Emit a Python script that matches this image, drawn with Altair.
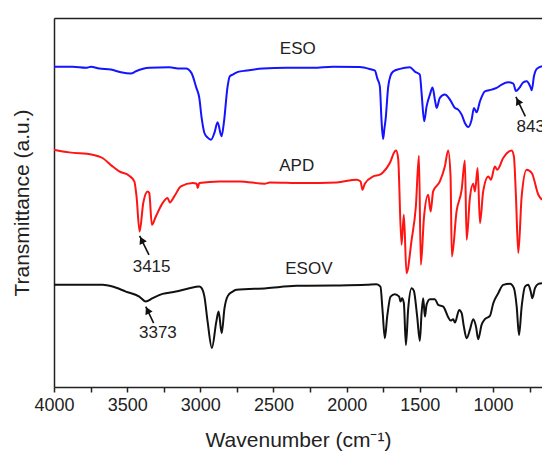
import altair as alt
import numpy as np
import pandas as pd

# FTIR spectra, vertically offset (arbitrary transmittance units)
ESO_WN = [4000, 3873, 3782, 3748, 3691, 3611, 3543, 3475, 3440, 3349, 3212, 3141, 3098, 3061,
          3027, 3007, 2991, 2972, 2950, 2927, 2904, 2882, 2855, 2838, 2815, 2799, 2779, 2743,
          2685, 2572, 2411, 2230, 2093, 1910, 1830, 1807, 1790, 1773, 1762, 1751, 1742, 1734,
          1716, 1700, 1682, 1636, 1568, 1534, 1500, 1488, 1470, 1454, 1431, 1413, 1397, 1385,
          1363, 1329, 1294, 1260, 1238, 1214, 1192, 1169, 1146, 1130, 1112, 1089, 1055, 1009,
          975, 941, 896, 861, 843, 820, 793, 770, 745, 735, 720, 701, 665]
ESO_T = [319.7, 319.7, 318.7, 319.7, 318, 317, 314.3, 313, 315.3, 318.7, 319.3, 318, 318, 313.7,
         298.7, 288.7, 268.7, 253.7, 249, 247, 253.7, 264.3, 250.3, 265.3, 298.7, 310.3, 312, 314.7,
         316, 318, 318.7, 318.7, 319.7, 319.5, 317, 316, 308, 300, 267, 247.7, 258, 267,
         300, 311, 315, 317.7, 319.3, 315, 312, 293.7, 265.3, 280, 292, 299, 287, 278.7,
         288.7, 292, 287, 278.7, 277, 272, 263.7, 259.7, 267, 278.7, 274.3, 285.3, 295.3, 297,
         298.7, 302, 304.3, 303, 295.5, 298.7, 304.3, 305.3, 300, 296.3, 310.3, 317.7, 320.3]

APD_WN = [4000, 3896, 3737, 3668, 3600, 3554, 3486, 3451, 3436, 3415, 3390, 3360, 3349, 3331,
          3304, 3258, 3224, 3208, 3178, 3133, 3053, 3025, 3018, 3007, 2870, 2731, 2560, 2526,
          2298, 2069, 1933, 1905, 1892, 1876, 1819, 1773, 1751, 1705, 1671, 1662, 1648, 1625,
          1609, 1591, 1556, 1527, 1506, 1493, 1472, 1443, 1426, 1409, 1363, 1329, 1306, 1290,
          1281, 1249, 1214, 1192, 1180, 1158, 1135, 1123, 1105, 1089, 1067, 1032, 1014, 987,
          971, 930, 872, 857, 843, 827, 804, 770, 735, 690, 665]
APD_T = [237, 234.3, 232, 228.7, 220.3, 215.3, 211, 205.3, 190.3, 155.3, 183.7, 195.3, 193.7, 162,
         170.3, 183.7, 188.7, 184.3, 190.3, 200.3, 203.7, 203, 198.7, 203.7, 205.3, 205.3, 203, 204.3,
         203.7, 204.3, 207, 205.3, 197, 203, 210.3, 212, 214.5, 223.7, 235.3, 236.3, 228, 142,
         172, 113.7, 147, 180.3, 231, 122, 168.7, 192, 175.3, 195.3, 205.3, 220.3, 236.3, 210.3,
         130.3, 175.3, 197, 226.3, 147, 188.7, 203, 195.3, 218.7, 163.7, 195.3, 210.3, 207, 220.3,
         217, 228.7, 236.3, 230.3, 190.3, 133.7, 190.3, 217, 213.7, 192, 187]

ESOV_WN = [4000, 3668, 3600, 3509, 3417, 3373, 3326, 3258, 3167, 3075, 3007, 2991, 2972, 2950,
           2921, 2891, 2875, 2854, 2835, 2812, 2779, 2754, 2548, 2343, 2093, 1864, 1796, 1769,
           1755, 1739, 1723, 1700, 1671, 1641, 1632, 1621, 1609, 1595, 1580, 1556, 1541, 1518,
           1500, 1488, 1477, 1465, 1454, 1431, 1397, 1374, 1340, 1306, 1290, 1272, 1260, 1231,
           1214, 1199, 1180, 1158, 1135, 1116, 1101, 1078, 1055, 1021, 998, 964, 930, 884,
           857, 838, 822, 804, 781, 759, 742, 731, 713, 690, 665]
ESOV_T = [102, 102, 100.3, 95.3, 90.3, 85.3, 88.7, 93, 95.3, 98.7, 100.3, 98.7, 90.3, 65,
          39, 65, 75.3, 53.7, 78.5, 91, 95.3, 97, 98.7, 101, 101.3, 102, 102.7, 100.3,
          77, 48.7, 70.3, 90.3, 92.7, 90.3, 85.3, 88.7, 83.7, 42, 77, 98.7, 96.3, 70.3,
          46, 73.7, 88.7, 70.3, 82, 87.7, 87.7, 82, 80.3, 69.7, 66.3, 67.7, 64.3, 77,
          73.7, 60.3, 48.7, 57, 67.7, 60.3, 47.7, 62, 67.7, 71, 83.7, 93.7, 102, 103,
          98.7, 80.3, 52, 80.3, 100.3, 102, 95.3, 88.7, 98.7, 103, 103.7]

SAMPLES = ["ESO", "APD", "ESOV"]
COLORS = ["#1414ff", "#ff1414", "#111111"]

# Sample names placed beside their curves
NAME_WN = [2334, 2341, 2258]
NAME_T = [338, 221, 117.7]

# Marked bands: arrow tip sits on the band, the number sits at the arrow tail
PEAK_WN = [3415, 3373, 843]
PEAK_TIP_T = [151, 80.3, 289.7]
ARROW_TAIL_WN = [3351, 3319, 779]
ARROW_TAIL_T = [132, 63.7, 270.3]
PEAK_TEXT_WN = [3333, 3290, 742]
PEAK_TEXT_T = [120.3, 53.7, 259.7]

FONT = "Liberation Sans"
INK = "#222222"

spectra = pd.concat(
    [
        pd.DataFrame({"wn": ESO_WN, "t": ESO_T, "sample": "ESO"}),
        pd.DataFrame({"wn": APD_WN, "t": APD_T, "sample": "APD"}),
        pd.DataFrame({"wn": ESOV_WN, "t": ESOV_T, "sample": "ESOV"}),
    ],
    ignore_index=True,
)

names = pd.DataFrame({"wn": NAME_WN, "t": NAME_T, "label": SAMPLES})
peak_text = pd.DataFrame({"wn": PEAK_TEXT_WN, "t": PEAK_TEXT_T,
                          "label": [str(v) for v in PEAK_WN]})

tip_wn = np.array(PEAK_WN, dtype=float)
tip_t = np.array(PEAK_TIP_T, dtype=float)
tail_wn = np.array(ARROW_TAIL_WN, dtype=float)
tail_t = np.array(ARROW_TAIL_T, dtype=float)
arrows = pd.DataFrame({
    "wn": tail_wn, "t": tail_t, "wn2": tip_wn, "t2": tip_t,
    # arrowhead centred a little behind the tip
    "hwn": tip_wn + 0.22 * (tail_wn - tip_wn),
    "ht": tip_t + 0.22 * (tail_t - tip_t),
})

x_scale = alt.Scale(domain=[4000, 665], nice=False, zero=False)
y_scale = alt.Scale(domain=[0, 368.5], nice=False, zero=False)

x_axis = alt.Axis(
    values=list(range(4000, 600, -250)),
    labelExpr="datum.value % 500 == 0 ? datum.value : ''",
    labelFlush=False, labelOverlap=False, grid=False,
    tickSize=5, tickWidth=1.5, tickColor=INK,
    domainWidth=1.5, domainColor=INK,
    labelFont=FONT, labelFontSize=18, labelColor=INK, labelPadding=4,
    titleFont=FONT, titleFontSize=21, titleFontWeight="normal", titleColor=INK,
    titlePadding=15,
)
y_axis = alt.Axis(
    labels=False, ticks=False, grid=False,
    domainWidth=1.5, domainColor=INK,
    titleFont=FONT, titleFontSize=21, titleFontWeight="normal", titleColor=INK,
    titlePadding=22,
)
top_axis = alt.Axis(
    orient="top", labels=False, ticks=False, grid=False, title=None,
    domainWidth=1.5, domainColor=INK,
)

lines = alt.Chart(spectra).mark_line(strokeWidth=2, interpolate="monotone").encode(
    x=alt.X("wn:Q", scale=x_scale, axis=x_axis, title="Wavenumber (cm⁻¹)"),
    y=alt.Y("t:Q", scale=y_scale, axis=y_axis, title="Transmittance (a.u.)"),
    color=alt.Color("sample:N", scale=alt.Scale(domain=SAMPLES, range=COLORS), legend=None),
    order=alt.Order("wn:Q", sort="descending"),
)

name_layer = alt.Chart(names).mark_text(font=FONT, fontSize=17, color=INK).encode(
    x=alt.X("wn:Q", scale=x_scale, axis=top_axis),
    y=alt.Y("t:Q", scale=y_scale, axis=None),
    text="label:N",
)

peak_layer = alt.Chart(peak_text).mark_text(font=FONT, fontSize=17, color=INK).encode(
    x=alt.X("wn:Q", scale=x_scale, axis=None),
    y=alt.Y("t:Q", scale=y_scale, axis=None),
    text="label:N",
)

arrow_shafts = alt.Chart(arrows).mark_rule(strokeWidth=1.6, color="#111111").encode(
    x=alt.X("wn:Q", scale=x_scale, axis=None),
    y=alt.Y("t:Q", scale=y_scale, axis=None),
    x2="wn2:Q",
    y2="t2:Q",
)

arrow_heads = alt.Chart(arrows).mark_point(
    shape="triangle-up", filled=True, size=65, angle=334, color="#111111", opacity=1
).encode(
    x=alt.X("hwn:Q", scale=x_scale, axis=None),
    y=alt.Y("ht:Q", scale=y_scale, axis=None),
)

chart = (
    alt.layer(lines, name_layer, peak_layer, arrow_shafts, arrow_heads)
    .resolve_axis(x="independent", y="independent")
    .properties(
        width=488,
        height=369,
        padding={"left": 54, "top": 18, "right": 0, "bottom": 67},
        autosize=alt.AutoSizeParams(type="none"),
        background="white",
    )
    .configure_view(stroke=None)
)

chart.save("out.html", embed_options={"renderer": "svg", "actions": False})
